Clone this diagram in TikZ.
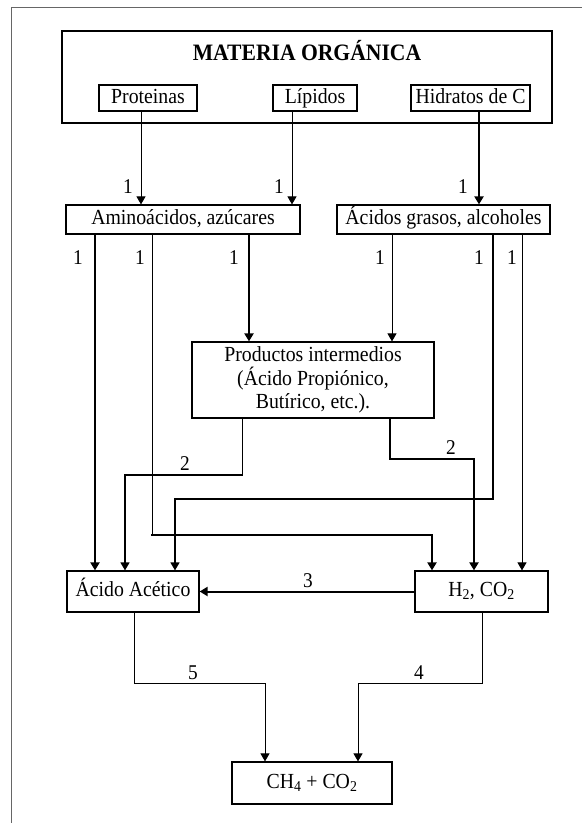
\documentclass[tikz,border=0pt]{standalone}
\usepackage{fontspec}
\setmainfont{Liberation Serif}[FakeStretch=0.92]
\usetikzlibrary{arrows.meta}
\begin{document}
\begin{tikzpicture}[x=1pt,y=-1pt,
  box/.style={draw, line width=1.2pt, inner sep=0pt, align=center, font=\fontsize{21.5}{23.5}\selectfont},
  single/.style={text height=14.5pt, text depth=4.5pt},
  thinl/.style={line width=1pt},
  midl/.style={line width=1.4pt},
  thickl/.style={line width=2pt, line cap=rect},
  arr/.style={-{Triangle[width=9pt,length=8pt]}},
  lbl/.style={inner sep=0pt, font=\fontsize{21}{23}\selectfont}]
\useasboundingbox (0,0) rectangle (582,823);
\draw[line width=1pt, black!60] (11,823) -- (11,7) -- (582,7);
% boxes
\node[box, minimum width=490, minimum height=92] (mo) at (307,77) {};
\node[inner sep=0pt, font=\bfseries\fontsize{23.5}{26}\selectfont] (title) at (307,51) {MATERIA ORGÁNICA};
\node[box, single, minimum width=98, minimum height=26] (prot) at (148,98) {Proteinas};
\node[box, single, minimum width=84, minimum height=26] (lip) at (315,98) {Lípidos};
\node[box, single, minimum width=119, minimum height=26] (hid) at (470.5,98) {Hidratos de C};
\node[box, single, minimum width=234, minimum height=29] (amino) at (183,219.5) {Aminoácidos, azúcares};
\node[box, single, minimum width=213, minimum height=29] (acg) at (443.5,219.5) {Ácidos grasos, alcoholes};
\node[box, minimum width=242, minimum height=76] (prod) at (313,380) {Productos intermedios\\(Ácido Propiónico,\\Butírico, etc.).};
\node[box, single, minimum width=132, minimum height=41] (aac) at (133,591.5) {Ácido Acético};
\node[box, single, minimum width=133, minimum height=41] (h2) at (481.5,591.5) {H\textsubscript{2}, CO\textsubscript{2}};
\node[box, single, minimum width=160, minimum height=42] (ch4) at (312,783) {CH\textsubscript{4} + CO\textsubscript{2}};
% connectors
\draw[thinl,arr] (141,0 |- prot.south) -- (141,0 |- amino.north);
\draw[thinl,arr] (292,0 |- lip.south) -- (292,0 |- amino.north);
\draw[thickl,arr] (479,0 |- hid.south) -- (479,0 |- acg.north);
\draw[thickl,arr] (95,0 |- amino.south) -- (95,0 |- aac.north);
\coordinate (c1) at (152,535);
\draw[thinl] (152,0 |- amino.south) -- (c1);
\draw[thickl,arr] (c1) -- (432,535) -- (432,0 |- h2.north);
\draw[thickl,arr] (249,0 |- amino.south) -- (249,0 |- prod.north);
\draw[thinl,arr] (392,0 |- acg.south) -- (392,0 |- prod.north);
\coordinate (c2) at (175,499);
\draw[thickl] (493,0 |- acg.south) -- (493,499) -- (c2);
\draw[midl,arr] (c2) -- (175,0 |- aac.north);
\draw[thinl,arr] (522,0 |- acg.south) -- (522,0 |- h2.north);
\coordinate (c3) at (242,475);
\coordinate (c4) at (125,475);
\draw[thinl] (242,0 |- prod.south) -- (c3);
\draw[thickl] (c3) -- (c4);
\draw[midl,arr] (c4) -- (125,0 |- aac.north);
\draw[thickl,arr] (390,0 |- prod.south) -- (390,459) -- (474,459) -- (474,0 |- h2.north);
\draw[thickl,arr] (h2.west) -- (aac.east);
\draw[thinl,arr] (134,0 |- aac.south) -- (134,683) -- (265,683) -- (265,0 |- ch4.north);
\draw[thinl,arr] (482,0 |- h2.south) -- (482,683) -- (358,683) -- (358,0 |- ch4.north);
% labels
\node[lbl] (l1) at (128,187) {1};
\node[lbl] (l2) at (279,187) {1};
\node[lbl] (l3) at (463,187) {1};
\node[lbl] (l4) at (78,258) {1};
\node[lbl] (l5) at (140,258) {1};
\node[lbl] (l6) at (234,258) {1};
\node[lbl] (l7) at (380,258) {1};
\node[lbl] (l8) at (479,258) {1};
\node[lbl] (l9) at (512,258) {1};
\node[lbl] (l10) at (185,464) {2};
\node[lbl] (l11) at (451,448) {2};
\node[lbl] (l12) at (308,581) {3};
\node[lbl] (l13) at (193,673) {5};
\node[lbl] (l14) at (419,673) {4};
\end{tikzpicture}
\end{document}
